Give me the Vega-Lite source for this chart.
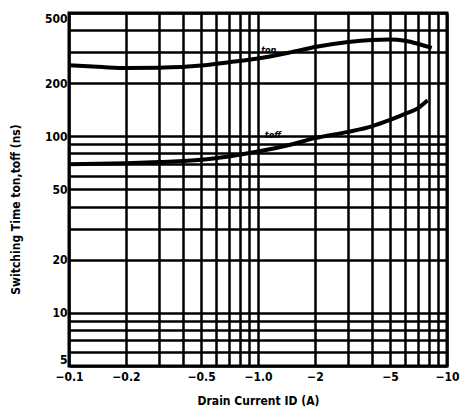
{
  "$schema": "https://vega.github.io/schema/vega-lite/v6.json",
  "width": 378,
  "height": 353,
  "autosize": "none",
  "padding": {"left": 69, "top": 13, "right": 15, "bottom": 51},
  "background": "white",
  "config": {
    "view": {"stroke": "black", "strokeWidth": 3},
    "font": "DejaVu Sans Condensed"
  },
  "datasets": {
    "curves": [
      {"series": "ton", "id": 0.1, "t": 253},
      {"series": "ton", "id": 0.15, "t": 247},
      {"series": "ton", "id": 0.2, "t": 244},
      {"series": "ton", "id": 0.3, "t": 245},
      {"series": "ton", "id": 0.5, "t": 252},
      {"series": "ton", "id": 0.7, "t": 263},
      {"series": "ton", "id": 1.0, "t": 276},
      {"series": "ton", "id": 1.5, "t": 300},
      {"series": "ton", "id": 2, "t": 321},
      {"series": "ton", "id": 3, "t": 343},
      {"series": "ton", "id": 4, "t": 352},
      {"series": "ton", "id": 5, "t": 354},
      {"series": "ton", "id": 6, "t": 348},
      {"series": "ton", "id": 7, "t": 335},
      {"series": "ton", "id": 8.3, "t": 317},
      {"series": "toff", "id": 0.1, "t": 69.5},
      {"series": "toff", "id": 0.2, "t": 70.5},
      {"series": "toff", "id": 0.3, "t": 71.5},
      {"series": "toff", "id": 0.5, "t": 73.6},
      {"series": "toff", "id": 0.7, "t": 77},
      {"series": "toff", "id": 1.0, "t": 82},
      {"series": "toff", "id": 1.5, "t": 90},
      {"series": "toff", "id": 2, "t": 97.7},
      {"series": "toff", "id": 3, "t": 106},
      {"series": "toff", "id": 4, "t": 114},
      {"series": "toff", "id": 5, "t": 124},
      {"series": "toff", "id": 6, "t": 134},
      {"series": "toff", "id": 7, "t": 144},
      {"series": "toff", "id": 7.9, "t": 160}
    ],
    "labels": [
      {"label": "ton", "id": 1.14, "t": 308},
      {"label": "toff", "id": 1.2, "t": 102}
    ]
  },
  "layer": [
    {
      "data": {"name": "curves"},
      "mark": {"type": "line", "interpolate": "monotone", "strokeWidth": 4, "color": "black", "clip": true},
      "encoding": {
        "x": {
          "field": "id", "type": "quantitative",
          "scale": {"type": "log", "domain": [0.1, 10], "nice": false},
          "axis": {
            "values": [0.1, 0.2, 0.3, 0.4, 0.5, 0.6, 0.7, 0.8, 0.9, 1, 2, 3, 4, 5, 6, 7, 8, 9, 10],
            "labelExpr": "datum.value == 1 ? '−1.0' : (datum.value == 0.1 || datum.value == 0.2 || datum.value == 0.5 || datum.value == 2 || datum.value == 5 || datum.value == 10) ? '−' + format(datum.value, '~g') : ''",
            "labelOverlap": false,
            "labelFlush": false,
            "ticks": false,
            "domain": false,
            "grid": true,
            "gridColor": "black",
            "gridWidth": 2.5,
            "gridOpacity": 1,
            "labelFontSize": 12,
            "labelFontWeight": "bold",
            "labelColor": "black",
            "labelPadding": 5,
            "title": "Drain Current ID (A)",
            "titleFontSize": 12,
            "titleFontWeight": "bold",
            "titleColor": "black",
            "titlePadding": 13
          }
        },
        "y": {
          "field": "t", "type": "quantitative",
          "scale": {"type": "log", "domain": [5, 500], "nice": false},
          "axis": {
            "values": [5, 6, 7, 8, 9, 10, 20, 30, 40, 50, 60, 70, 80, 90, 100, 200, 300, 400, 500],
            "labelExpr": "(datum.value == 5 || datum.value == 10 || datum.value == 20 || datum.value == 50 || datum.value == 100 || datum.value == 200 || datum.value == 500) ? format(datum.value, '~g') : ''",
            "labelOverlap": false,
            "labelFlush": true,
            "ticks": false,
            "domain": false,
            "grid": true,
            "gridColor": "black",
            "gridWidth": 2.5,
            "gridOpacity": 1,
            "labelFontSize": 12,
            "labelFontWeight": "bold",
            "labelColor": "black",
            "labelPadding": 2,
            "title": "Switching Time ton,toff (ns)",
            "titleFontSize": 12,
            "titleFontWeight": "bold",
            "titleColor": "black",
            "titleY": 196,
            "titlePadding": 22
          }
        },
        "detail": {"field": "series"}
      }
    },
    {
      "data": {"name": "labels"},
      "mark": {"type": "text", "fontSize": 9, "fontWeight": "bold", "fontStyle": "italic", "color": "black", "baseline": "middle"},
      "encoding": {
        "x": {"field": "id", "type": "quantitative"},
        "y": {"field": "t", "type": "quantitative"},
        "text": {"field": "label"}
      }
    }
  ]
}
